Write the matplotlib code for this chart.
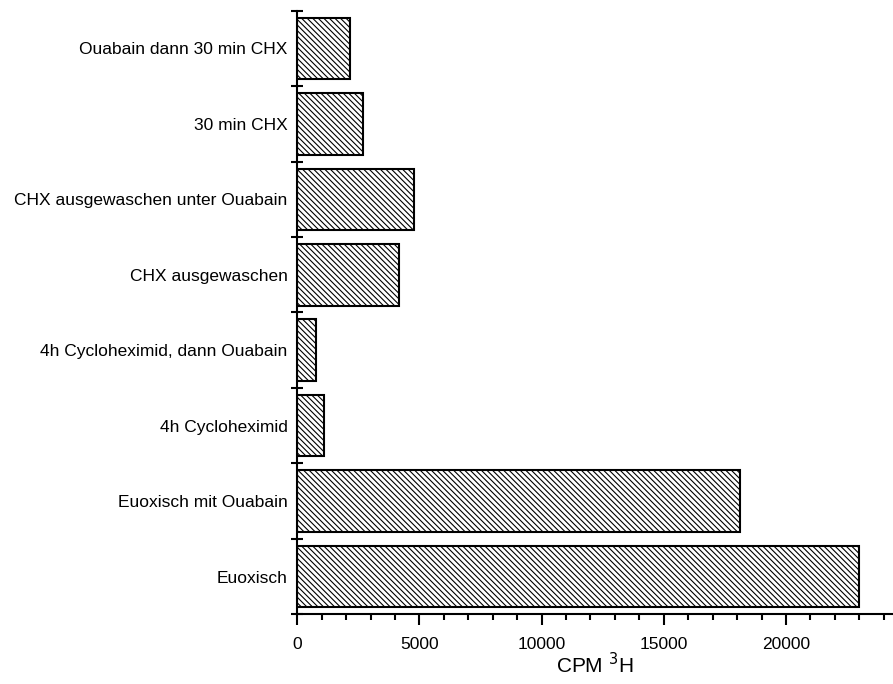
#!/usr/bin/env python3
import matplotlib

matplotlib.use("Agg")
import matplotlib.pyplot as plt
from matplotlib.ticker import FixedLocator, MultipleLocator

# bottom to top, as drawn
CATEGORIES = [
    "Euoxisch",
    "Euoxisch mit Ouabain",
    "4h Cycloheximid",
    "4h Cycloheximid, dann Ouabain",
    "CHX ausgewaschen",
    "CHX ausgewaschen unter Ouabain",
    "30 min CHX",
    "Ouabain dann 30 min CHX",
]
CPM_VALUES = [23000, 18100, 1080, 765, 4180, 4780, 2700, 2150]
X_TICKS = [0, 5000, 10000, 15000, 20000]

plt.rcParams["font.family"] = ["Liberation Sans", "DejaVu Sans"]
plt.rcParams["hatch.linewidth"] = 0.8


def main():
    fig = plt.figure(figsize=(8.93, 6.84), dpi=100)
    ax = fig.add_axes([0.3329, 0.1019, 1.0 - 0.3329, 0.9844 - 0.1019])

    ys = list(range(len(CATEGORIES)))
    ax.barh(
        ys,
        CPM_VALUES,
        height=0.815,
        color="white",
        edgecolor="black",
        linewidth=1.5,
        hatch="\\" * 6,
    )

    ax.set_ylim(-0.5, len(CATEGORIES) - 0.5)
    ax.set_xlim(0, 24380)

    # category boundaries get the tick marks, labels sit in between
    ax.yaxis.set_major_locator(FixedLocator([y - 0.5 for y in range(len(CATEGORIES) + 1)]))
    ax.yaxis.set_minor_locator(FixedLocator(ys))
    ax.set_yticklabels([], minor=False)
    ax.set_yticklabels(CATEGORIES, minor=True)
    ax.tick_params(axis="y", which="major", direction="inout", length=9, width=1.5)
    ax.tick_params(axis="y", which="minor", length=0, pad=7, labelsize=12.5)

    ax.xaxis.set_major_locator(FixedLocator(X_TICKS))
    ax.xaxis.set_minor_locator(MultipleLocator(1000))
    ax.tick_params(axis="x", which="major", direction="out", length=8, width=1.5,
                   labelsize=12.5, pad=8)
    ax.tick_params(axis="x", which="minor", direction="out", length=4, width=1.5)

    ax.set_xlabel("CPM $^3$H", fontsize=15, labelpad=0)

    for side in ("top", "right"):
        ax.spines[side].set_visible(False)
    for side in ("left", "bottom"):
        ax.spines[side].set_linewidth(1.5)

    fig.savefig("out.png", dpi=100)
    plt.close(fig)


if __name__ == "__main__":
    main()
